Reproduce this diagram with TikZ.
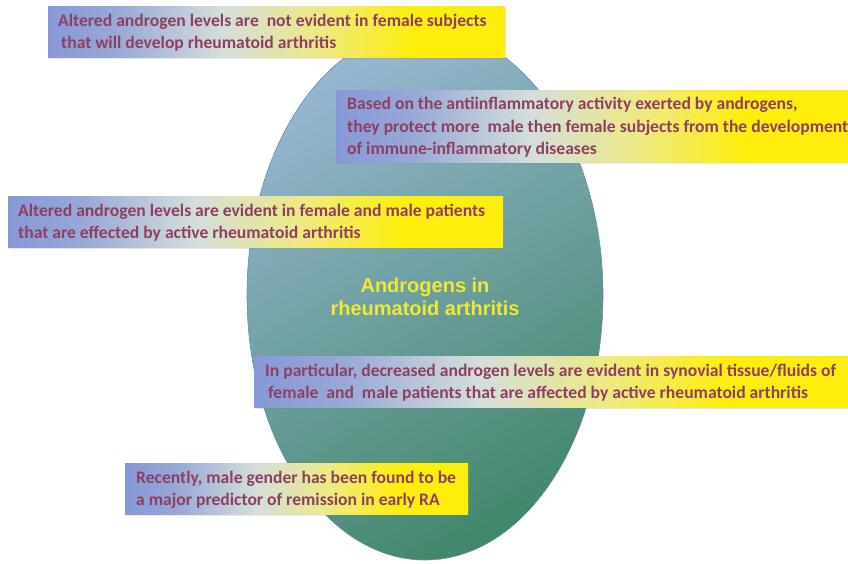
\documentclass[tikz,border=0pt]{standalone}
\usepackage{fontspec}
\setmainfont{Carlito}
\newfontfamily\titlefont{Liberation Sans}
\usetikzlibrary{shadows}
\definecolor{bA}{RGB}{135,152,215}
\definecolor{bB}{RGB}{152,168,215}
\definecolor{bC}{RGB}{212,222,220}
\definecolor{bD}{RGB}{238,234,128}
\definecolor{bE}{RGB}{254,238,10}
\definecolor{txtc}{RGB}{142,64,98}
\definecolor{ttlc}{RGB}{242,232,50}
\definecolor{ellA}{RGB}{150,182,208}
\definecolor{ellB}{RGB}{108,160,165}
\definecolor{ellC}{RGB}{66,136,108}
\definecolor{ellE}{RGB}{110,140,175}
\pgfdeclarehorizontalshading{boxshade}{100bp}{color(0bp)=(bA); color(25bp)=(bA); color(32.5bp)=(bB); color(44bp)=(bC); color(55bp)=(bD); color(65bp)=(bE); color(75bp)=(bE); color(100bp)=(bE)}
\begin{document}
\begin{tikzpicture}[x=1pt,y=-1pt,
  boxbg/.style={rectangle, inner sep=0pt, shading=boxshade, anchor=north west,
    drop shadow={opacity=0.18, shadow xshift=1pt, shadow yshift=-2pt}},
  boxtxt/.style={anchor=west, inner sep=0pt, align=left, text=txtc,
    font=\fontsize{17.6}{22.7}\selectfont\bfseries},
  ttl/.style={inner sep=0pt, align=center, text=ttlc,
    font=\titlefont\fontsize{20}{23.5}\selectfont\bfseries},
  ell/.style={top color=ellA, middle color=ellB, bottom color=ellC, shading angle=30,
    draw=ellE, line width=0.6pt}]
\useasboundingbox (0,0) rectangle (848,563);
\fill[white] (0,0) rectangle (848,563);
% central egg-shaped ellipse
\path[ell] (247,295) arc[start angle=180, end angle=360, x radius=178, y radius=266]
  arc[start angle=0, end angle=180, x radius=178, y radius=265] -- cycle;
\node[ttl] (title) at (425,297) {Androgens in\\rheumatoid arthritis};
% boxes
\node[boxbg, minimum width=457pt, minimum height=51pt] (b1) at (48,6) {};
\node[boxtxt] (t1) at ([xshift=10pt,yshift=-1pt]b1.west) {Altered androgen levels are \ not evident in female subjects\\\hspace*{3pt}that will develop rheumatoid arthritis};
\node[boxbg, minimum width=512pt, minimum height=72pt] (b2) at (336,90) {};
\node[boxtxt] (t2) at ([xshift=11pt,yshift=-1pt]b2.west) {Based on the antiinflammatory activity exerted by androgens,\\they protect more \ male then female subjects from the development\\of immune-inflammatory diseases};
\node[boxbg, minimum width=495pt, minimum height=51pt] (b3) at (8,196) {};
\node[boxtxt] (t3) at ([xshift=10pt,yshift=-1pt]b3.west) {Altered androgen levels are evident in female and male patients\\that are effected by active rheumatoid arthritis};
\node[boxbg, minimum width=594pt, minimum height=51pt] (b4) at (254,356) {};
\node[boxtxt] (t4) at ([xshift=11pt,yshift=-1pt]b4.west) {In particular, decreased androgen levels are evident in synovial tissue/fluids of\\\hspace*{3pt}female \ and \ male patients that are affected by active rheumatoid arthritis};
\node[boxbg, minimum width=343pt, minimum height=51pt] (b5) at (125,463) {};
\node[boxtxt] (t5) at ([xshift=11pt,yshift=-1pt]b5.west) {Recently, male gender has been found to be\\a major predictor of remission in early RA};
\end{tikzpicture}
\end{document}
